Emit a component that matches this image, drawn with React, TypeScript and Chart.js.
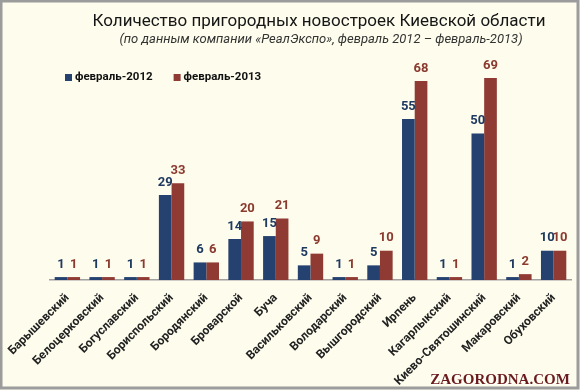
import React, { useEffect, useRef } from "react";
import { Chart, registerables } from "chart.js";

Chart.register(...registerables);

const titleText = "Количество пригородных новостроек Киевской области";
const subtitleText = "(по данным компании «РеалЭкспо», февраль 2012 – февраль-2013)";
const categories = [
  "Барышевский",
  "Белоцерковский",
  "Богуславский",
  "Бориспольский",
  "Бородянский",
  "Броварской",
  "Буча",
  "Васильковский",
  "Володарский",
  "Вышгородский",
  "Ирпень",
  "Кагарлыкский",
  "Киево-Святошинский",
  "Макаровский",
  "Обуховский",
];
const seriesNames = ["февраль-2012", "февраль-2013"];
const values2012 = [1, 1, 1, 29, 6, 14, 15, 5, 1, 5, 55, 1, 50, 1, 10];
const values2013 = [1, 1, 1, 33, 6, 20, 21, 9, 1, 10, 68, 1, 69, 2, 10];
const watermark = "ZAGORODNA.COM";

const barColors = ["#24416f", "#8f3b34"];
const labelColors = ["#1f3a60", "#8b3a2f"];

const bgPlugin = {
  id: "bgPlugin",
  beforeDraw(chart: any) {
    const ctx = chart.ctx;
    ctx.save();
    ctx.fillStyle = "#fefcec";
    ctx.fillRect(0, 0, chart.width, chart.height);
    ctx.restore();
  },
  afterDraw(chart: any) {
    const ctx = chart.ctx;
    ctx.save();
    // frame
    ctx.strokeStyle = "#9c9c9c";
    ctx.lineWidth = 3;
    ctx.strokeRect(1, 1, chart.width - 3, chart.height - 3);
    // title + subtitle
    ctx.textAlign = "center";
    ctx.textBaseline = "middle";
    ctx.fillStyle = "#151515";
    ctx.font = "17px Roboto";
    ctx.fillText(titleText, 319, 22);
    ctx.fillStyle = "#333333";
    ctx.font = "italic 13px Roboto";
    ctx.fillText(subtitleText, 321, 40);
    // legend
    ctx.font = "bold 11.5px Roboto";
    ctx.textAlign = "left";
    let x = 65;
    chart.data.datasets.forEach((ds: any, i: number) => {
      ctx.fillStyle = barColors[i];
      ctx.fillRect(x, 74, 7, 7);
      ctx.fillStyle = "#111111";
      ctx.fillText(ds.label, x + 10, 77.5);
      x += 10 + ctx.measureText(ds.label).width + 21;
    });
    // watermark
    ctx.font = "bold 15px 'Liberation Serif'";
    ctx.textAlign = "center";
    ctx.textBaseline = "alphabetic";
    ctx.fillStyle = "#ffffff";
    ctx.fillText(watermark, 501, 385);
    ctx.fillStyle = "#6a1c1c";
    ctx.fillText(watermark, 500, 384);
    ctx.restore();
  },
};

const valueLabels = {
  id: "valueLabels",
  afterDatasetsDraw(chart: any) {
    const ctx = chart.ctx;
    chart.data.datasets.forEach((ds: any, i: number) => {
      const meta = chart.getDatasetMeta(i);
      meta.data.forEach((bar: any, j: number) => {
        ctx.save();
        ctx.font = "bold 13px Roboto";
        ctx.fillStyle = labelColors[i];
        ctx.textAlign = "center";
        ctx.textBaseline = "bottom";
        ctx.fillText(String(ds.data[j]), bar.x, bar.y - 6);
        ctx.restore();
      });
    });
  },
};

export default function App() {
  const ref = useRef<HTMLCanvasElement | null>(null);
  useEffect(() => {
    if (!ref.current) return;
    const chart = new Chart(ref.current, {
      type: "bar",
      data: {
        labels: categories,
        datasets: [
          {
            label: seriesNames[0],
            data: values2012,
            backgroundColor: barColors[0],
            barPercentage: 1,
            categoryPercentage: 0.73,
          },
          {
            label: seriesNames[1],
            data: values2013,
            backgroundColor: barColors[1],
            barPercentage: 1,
            categoryPercentage: 0.73,
          },
        ],
      },
      options: {
        responsive: false,
        animation: false,
        devicePixelRatio: 1,
        layout: { padding: { left: 50, right: 9, top: 56, bottom: 0 } },
        plugins: {
          title: { display: false },
          legend: { display: false },
          tooltip: { enabled: false },
        },
        scales: {
          x: {
            grid: { display: false },
            border: { display: true, color: "#a0a0a0", width: 1.5 },
            ticks: {
              autoSkip: false,
              maxRotation: 45,
              minRotation: 45,
              color: "#222222",
              font: { family: "Roboto", size: 12, weight: "bold" },
            },
            afterFit(s: any) {
              s.height = 110;
            },
          },
          y: {
            display: false,
            min: 0,
            max: 76.5,
          },
        },
      },
      plugins: [bgPlugin, valueLabels],
    });
    return () => chart.destroy();
  }, []);
  return (
    <div style={{ position: "absolute", left: 0, top: 0, width: 580, height: 390 }}>
      <canvas ref={ref} width={580} height={390} />
    </div>
  );
}
